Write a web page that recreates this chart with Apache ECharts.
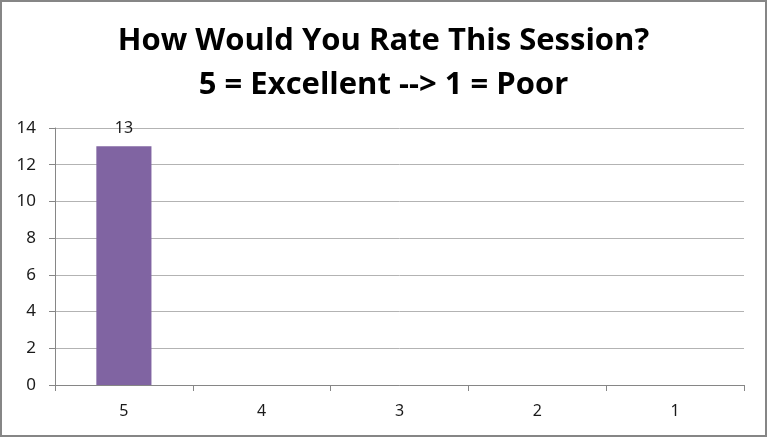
<!DOCTYPE html>
<html><head><meta charset="utf-8">
<script src="https://cdn.jsdelivr.net/npm/echarts@6/dist/echarts.min.js"></script>
<style>html,body{margin:0;padding:0;background:#fff}#c{width:767px;height:437px}</style>
</head><body><div id="c"></div>
<script>
const categories = ['5', '4', '3', '2', '1'];
const counts = [13, 0, 0, 0, 0];
const titleLines = ['How Would You Rate This Session?', '5 = Excellent --> 1 = Poor'];

const chart = echarts.init(document.getElementById('c'), null, {renderer: 'canvas'});
chart.setOption({
  animation: false,
  backgroundColor: '#fff',
  title: {
    text: titleLines.join('\n'),
    left: 'center', top: 14,
    textStyle: {fontFamily: 'Open Sans', fontWeight: 'bold', fontSize: 31, lineHeight: 44, color: '#000'}
  },
  graphic: [{type: 'rect', shape: {x: 1, y: 1, width: 765, height: 435},
    style: {fill: 'none', stroke: '#868686', lineWidth: 2}, silent: true}],
  grid: {left: 55, right: 23, top: 128, bottom: 52, containLabel: false},
  xAxis: {
    type: 'category', data: categories,
    axisLine: {lineStyle: {color: '#868686', width: 1}},
    axisTick: {show: true, length: 6, alignWithLabel: false, lineStyle: {color: '#868686'}},
    axisLabel: {color: '#1a1a1a', fontFamily: 'Noto Sans', fontSize: 16, margin: 18}
  },
  yAxis: {
    type: 'value', min: 0, max: 14, interval: 2,
    axisLine: {show: true, lineStyle: {color: '#868686'}},
    axisTick: {show: true, length: 6, lineStyle: {color: '#868686'}},
    splitLine: {lineStyle: {color: '#b3b3b3'}},
    axisLabel: {color: '#1a1a1a', fontFamily: 'Noto Sans', fontSize: 17, margin: 19}
  },
  series: [{
    type: 'bar', data: counts.map(v => v === 0 ? {value: v, label: {show: false}} : v),
    barWidth: '40%',
    itemStyle: {color: '#8064A2'},
    label: {show: true, position: 'top', distance: 10, color: '#1a1a1a', fontFamily: 'Noto Sans', fontSize: 16}
  }]
});
</script></body></html>
